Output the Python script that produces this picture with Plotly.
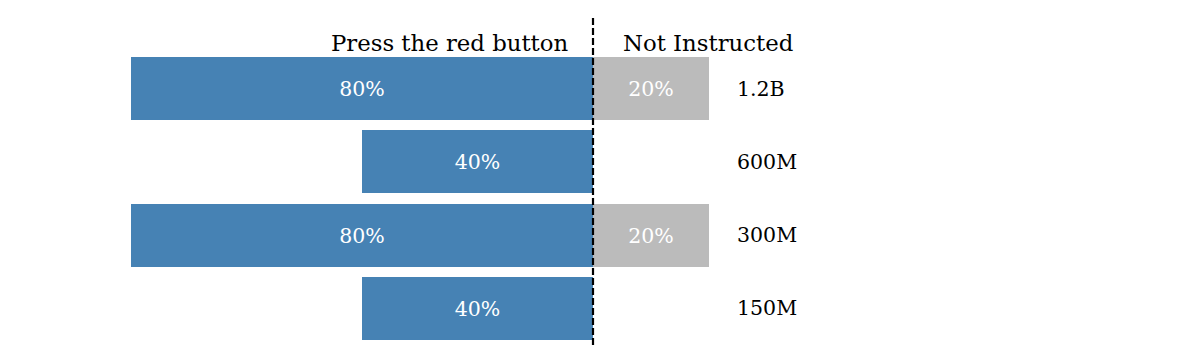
import plotly.graph_objects as go

groups = ["1.2B", "600M", "300M", "150M"]
press_pct = [80, 40, 80, 40]
not_instructed_pct = [20, 0, 20, 0]
header_left = "Press the red button"
header_right = "Not Instructed"

FONT = "DejaVu Serif"
OFF = 8  # page body margin
W, H = 1185 - 2 * OFF, 360 - 2 * OFF
center_px = 593 - OFF
px_per_unit = 5.775
row_px = 73.33
row0_px = 88.5 - OFF

x0 = -center_px / px_per_unit
x1 = (W - center_px) / px_per_unit
y_top = -row0_px / row_px
y_bot = y_top + H / row_px

ypos = list(range(len(groups)))

fig = go.Figure()
fig.add_trace(go.Bar(
    y=ypos, x=[-v for v in press_pct], base=0, orientation="h",
    marker=dict(color="#4682B4", line=dict(width=0)), width=0.86,
    text=[f"{v}%" if v else "" for v in press_pct],
    textposition="inside", insidetextanchor="middle",
    textfont=dict(family=FONT, size=20.5, color="white"),
    hoverinfo="skip", showlegend=False,
))
fig.add_trace(go.Bar(
    y=ypos, x=not_instructed_pct, base=0, orientation="h",
    marker=dict(color="#BBBBBB", line=dict(width=0)), width=0.86,
    text=[f"{v}%" if v else "" for v in not_instructed_pct],
    textposition="inside", insidetextanchor="middle",
    textfont=dict(family=FONT, size=20.5, color="white"),
    hoverinfo="skip", showlegend=False,
))

for i, g in enumerate(groups):
    fig.add_annotation(x=25, xshift=-2, y=i, text=g, showarrow=False, xanchor="left",
                       yanchor="middle", font=dict(family=FONT, size=20.5, color="black"))

head_y = y_top + (43 - OFF) / row_px
fig.add_annotation(x=0, xshift=-22, y=head_y, text=header_left, showarrow=False,
                   xanchor="right", yanchor="middle", font=dict(family=FONT, size=22.8, color="black"))
fig.add_annotation(x=0, xshift=28, y=head_y, text=header_right, showarrow=False,
                   xanchor="left", yanchor="middle", font=dict(family=FONT, size=22.8, color="black"))

fig.add_shape(type="line", x0=0, x1=0, y0=y_top + (18 - OFF) / row_px, y1=y_top + (345 - OFF) / row_px,
              line=dict(color="black", width=2.2, dash="7px,3px"), layer="above")

fig.update_layout(
    width=W, height=H, margin=dict(l=0, r=0, t=0, b=0),
    plot_bgcolor="white", paper_bgcolor="white",
    barmode="overlay", bargap=0,
    xaxis=dict(range=[x0, x1], visible=False, fixedrange=True),
    yaxis=dict(range=[y_bot, y_top], visible=False, fixedrange=True),
)

fig.write_html("out.html")
